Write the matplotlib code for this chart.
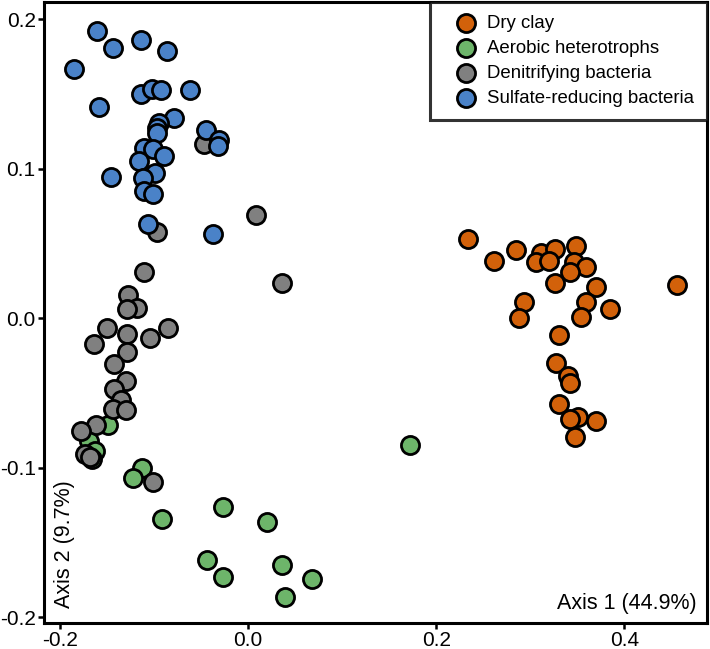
import matplotlib
matplotlib.use("Agg")
import matplotlib.pyplot as plt

plt.rcParams['font.family'] = ['Liberation Sans', 'DejaVu Sans']
plt.rcParams['axes.unicode_minus'] = False

# PCoA coordinates
clay_x = [0.2337, 0.2620, 0.2851, 0.3117, 0.3259, 0.3061, 0.3202, 0.3486, 0.3461, 0.3593,
          0.3418, 0.3266, 0.3702, 0.4556, 0.2929, 0.2883, 0.3593, 0.3848, 0.3543, 0.3301,
          0.3277, 0.3407, 0.3426, 0.3303, 0.3511, 0.3422, 0.3697, 0.3479]
clay_y = [0.0526, 0.0381, 0.0457, 0.0437, 0.0464, 0.0373, 0.0383, 0.0480, 0.0373, 0.0343,
          0.0310, 0.0232, 0.0205, 0.0219, 0.0107, 0.0002, 0.0107, 0.0058, 0.0009, -0.0114,
          -0.0303, -0.0388, -0.0435, -0.0575, -0.0660, -0.0672, -0.0686, -0.0798]

aer_x = [-0.1486, -0.1691, -0.1628, -0.1660, -0.1131, -0.1227, -0.0912, -0.0263, 0.0199,
         -0.0439, -0.0263, 0.0359, 0.0684, 0.0394, 0.1723]
aer_y = [-0.0716, -0.0823, -0.0890, -0.0943, -0.1005, -0.1072, -0.1342, -0.1262, -0.1367,
         -0.1619, -0.1734, -0.1652, -0.1746, -0.1864, -0.0849]

den_x = [-0.0468, 0.0082, -0.0971, -0.1106, 0.0365, -0.1282, -0.1184, -0.1290, -0.1503,
         -0.1635, -0.1284, -0.1048, -0.0851, -0.1290, -0.1431, -0.1298, -0.1423, -0.1351,
         -0.1433, -0.1295, -0.1620, -0.1777, -0.1734, -0.1681, -0.1014]
den_y = [0.1167, 0.0687, 0.0575, 0.0310, 0.0232, 0.0154, 0.0065, 0.0060, -0.0069,
         -0.0174, -0.0107, -0.0132, -0.0064, -0.0224, -0.0308, -0.0421, -0.0473, -0.0545,
         -0.0609, -0.0616, -0.0716, -0.0758, -0.0910, -0.0930, -0.1094]

srb_x = [-0.1610, -0.1436, -0.1135, -0.0867, -0.1851, -0.1585, -0.1144, -0.1018, -0.0926,
         -0.0614, -0.0793, -0.0947, -0.0968, -0.0973, -0.0447, -0.0312, -0.0324, -0.1104,
         -0.1014, -0.0891, -0.1165, -0.0995, -0.1115, -0.1454, -0.1104, -0.1014, -0.1069,
         -0.0372]
srb_y = [0.1920, 0.1806, 0.1862, 0.1786, 0.1666, 0.1415, 0.1497, 0.1530, 0.1525,
         0.1527, 0.1340, 0.1306, 0.1274, 0.1241, 0.1258, 0.1194, 0.1154, 0.1137,
         0.1132, 0.1082, 0.1052, 0.0972, 0.0940, 0.0941, 0.0850, 0.0831, 0.0629,
         0.0560]

groups = ['Dry clay', 'Aerobic heterotrophs', 'Denitrifying bacteria', 'Sulfate-reducing bacteria']
colors = ['#D2610A', '#6DB56A', '#808080', '#4A82C8']

fig = plt.figure(figsize=(7.1, 6.49), dpi=100)
ax = fig.add_axes([0.062, 0.040, 0.9338, 0.9569])

data = [(clay_x, clay_y), (aer_x, aer_y), (den_x, den_y), (srb_x, srb_y)]
for (xs, ys), lab, col in zip(data, groups, colors):
    ax.scatter(xs, ys, s=170, c=col, edgecolors='black', linewidths=2.0, label=lab, zorder=3)

ax.set_xlim(-0.217, 0.488)
ax.set_ylim(-0.204, 0.2114)
ax.set_xticks([-0.2, 0.0, 0.2, 0.4])
ax.set_yticks([-0.2, -0.1, 0.0, 0.1, 0.2])
ax.set_xticklabels(['-0.2', '0.0', '0.2', '0.4'])
ax.set_yticklabels(['-0.2', '-0.1', '0.0', '0.1', '0.2'])
ax.tick_params(labelsize=15, width=1.8, length=4, pad=2)
for sp in ax.spines.values():
    sp.set_linewidth(2.2)

ax.text(0.985, 0.015, 'Axis 1 (44.9%)', transform=ax.transAxes, ha='right', va='bottom', fontsize=15.5)
ax.text(0.015, 0.025, 'Axis 2 (9.7%)', transform=ax.transAxes, ha='left', va='bottom',
        rotation=90, fontsize=15.5)

leg = ax.legend(loc='upper right', fontsize=13.4, frameon=True, fancybox=False, borderaxespad=0,
                labelspacing=0.42, handletextpad=-0.05, borderpad=0.7, handlelength=2.4)
leg.get_frame().set_edgecolor('black')
leg.get_frame().set_linewidth(2.2)

fig.savefig('out.png', dpi=100)
